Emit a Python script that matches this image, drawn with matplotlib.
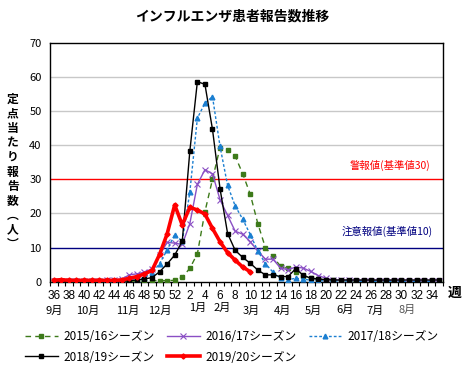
import matplotlib
matplotlib.use("Agg")
import matplotlib.pyplot as plt
import numpy as np
from matplotlib.transforms import blended_transform_factory

plt.rcParams['font.family'] = ['Noto Sans CJK JP', 'DejaVu Sans']

weeks = list(range(36, 53)) + list(range(1, 36))
week_labels = [str(w) if i % 2 == 0 else "" for i, w in enumerate(weeks)]

nan = np.nan
s1516 = [0.1, 0.1, 0.1, 0.1, 0.1, 0.1, 0.1, 0.1, 0.1, 0.1, 0.1, 0.2, 0.2, 0.3, 0.3, 0.3, 0.4,
         1.3, 3.9, 8.2, 20.5, 30.0, 39.3, 38.6, 36.8, 31.6, 25.6, 17.0, 10.0, 7.4, 4.5, 3.9,
         2.8, 1.8, 1.1, 0.7, 0.5, 0.4, 0.3, 0.3, 0.2, 0.2, 0.2, 0.2, 0.2, 0.1, 0.1, 0.1, 0.1, 0.1, 0.1, 0.1]
s1617 = [0.2, 0.2, 0.2, 0.2, 0.3, 0.3, 0.3, 0.4, 0.5, 0.8, 2.0, 2.3, 2.8, 3.8, 7.8, 11.5, 11.3,
         10.9, 17.0, 28.5, 32.8, 31.6, 24.0, 19.4, 14.8, 13.9, 11.7, 9.0, 6.6, 6.6, 4.0, 3.5,
         4.3, 4.0, 3.0, 1.8, 1.0, 0.6, 0.4, 0.4, 0.3, 0.3, 0.3, 0.3, 0.3, 0.3, 0.2, 0.2, 0.2, 0.2, 0.2, 0.2]
s1718 = [0.1, 0.1, 0.1, 0.1, 0.1, 0.1, 0.1, 0.2, 0.2, 0.2, 0.3, 0.6, 1.2, 2.5, 5.3, 9.3, 13.8,
         11.8, 26.2, 47.9, 52.3, 54.2, 39.6, 28.2, 22.2, 18.3, 13.8, 9.0, 5.3, 2.8, 1.0, 0.6,
         1.0, 0.8, 0.4, 0.3, 0.2, 0.2, 0.2, 0.2, 0.2, 0.1, 0.1, 0.1, 0.1, 0.1, 0.1, 0.1, 0.1, 0.1, 0.1, 0.1]
s1819 = [0.1, 0.1, 0.1, 0.1, 0.1, 0.1, 0.1, 0.2, 0.2, 0.2, 0.3, 0.5, 0.8, 1.2, 2.9, 5.2, 7.8,
         11.8, 38.2, 58.6, 57.8, 44.6, 27.2, 14.1, 9.2, 7.1, 5.4, 3.4, 2.0, 2.0, 1.5, 1.5,
         3.8, 1.9, 1.0, 0.8, 0.6, 0.5, 0.5, 0.5, 0.5, 0.5, 0.5, 0.5, 0.5, 0.5, 0.5, 0.5, 0.5, 0.5, 0.5, 0.5]
s1920 = [0.4, 0.6, 0.4, 0.4, 0.4, 0.4, 0.4, 0.4, 0.4, 0.5, 1.0, 1.5, 2.3, 3.3, 8.0, 14.0, 22.5,
         16.6, 21.8, 21.0, 19.8, 15.6, 11.7, 8.5, 6.3, 4.3, 2.9] + [nan] * 25

months = ["9月", "10月", "11月", "12月", "1月", "2月", "3月", "4月", "5月", "6月", "7月", "8月"]
month_pos = [0, 4.5, 9.8, 14, 19, 22.3, 26.1, 30.2, 34.3, 38.5, 42.5, 46.7]
month_dy = [0, 0, 0, 0, 0.012, 0.012, 0, 0, 0, 0.005, 0, 0.005]

fig = plt.figure(figsize=(4.64, 3.70), dpi=100)
ax = fig.add_axes([50 / 464, 1 - 281.7 / 370, (443 - 50) / 464, (281.7 - 42.7) / 370])

x = np.arange(len(weeks))
ax.set_xlim(-0.5, len(weeks) - 0.5)
ax.set_ylim(0, 70)

for g in [20, 40, 50, 60]:
    ax.axhline(g, color="#c8c8c8", lw=1, zorder=0)
ax.axhline(30, color="#ff0000", lw=1, zorder=1)
ax.axhline(10, color="#000080", lw=1, zorder=1)

ax.text(49.8, 32.3, "警報値(基準値30)", color="#ff0000", fontsize=7.5, ha="right", va="bottom")
ax.text(50.2, 13.0, "注意報値(基準値10)", color="#000080", fontsize=7.5, ha="right", va="bottom")

l1, = ax.plot(x, s1516, color="#3d7a1a", lw=1, ls=(0, (4, 3)), marker="s", ms=2.2, label="2015/16シーズン", zorder=3)
l2, = ax.plot(x, s1617, color="#8a4fc4", lw=1, marker="x", ms=4, mew=0.8, label="2016/17シーズン", zorder=3)
l3, = ax.plot(x, s1718, color="#1b7fd1", lw=1, ls=(0, (2, 1.5)), marker="^", ms=3.4, label="2017/18シーズン", zorder=3)
l4, = ax.plot(x, s1819, color="#000000", lw=1, marker="s", ms=3.2, label="2018/19シーズン", zorder=4)
l5, = ax.plot(x, s1920, color="#ff0000", lw=2.6, marker="D", ms=2.6, label="2019/20シーズン", zorder=5)

ax.set_yticks(range(0, 71, 10))
ax.tick_params(axis="y", length=0, labelsize=8, pad=6)
ax.set_xticks(x)
ax.set_xticklabels(week_labels, fontsize=8.5, family=["Liberation Sans", "DejaVu Sans"])
ax.set_xticks(np.arange(-0.5, len(weeks), 1), minor=True)
ax.tick_params(axis="x", which="major", length=0, pad=6)
ax.tick_params(axis="x", which="minor", length=3, direction="out", width=0.8)
for sp in ax.spines.values():
    sp.set_linewidth(1)
    sp.set_color("black")

trans = blended_transform_factory(ax.transData, ax.transAxes)
for m, p, dy in zip(months, month_pos, month_dy):
    ax.text(p, -0.1 + dy, m, transform=trans, fontsize=8, ha="center", va="top",
            color="#555555" if m == "8月" else "black")

fig.text(455 / 464, 1 - 293 / 370, "週", fontsize=10, fontweight="bold", ha="center", va="center")

ylabel = "\n".join(list("定点当たり報告数︵人︶"))
fig.text(13 / 464, 1 - 172 / 370, ylabel, fontsize=8.5, fontweight="bold", ha="center", va="center", linespacing=1.15)

fig.text(232 / 464, 1 - 16 / 370, "インフルエンザ患者報告数推移", fontsize=10, fontweight="bold", ha="center", va="center")

handles = [l1, l4, l2, l5, l3]
fig.legend(handles, [h.get_label() for h in handles], ncol=3, loc="center",
           bbox_to_anchor=(0.5, 1 - 347 / 370), frameon=False, fontsize=8.5,
           handlelength=2.8, columnspacing=1.0, handletextpad=0.5, labelspacing=0.6)

fig.savefig("out.png", dpi=100)
